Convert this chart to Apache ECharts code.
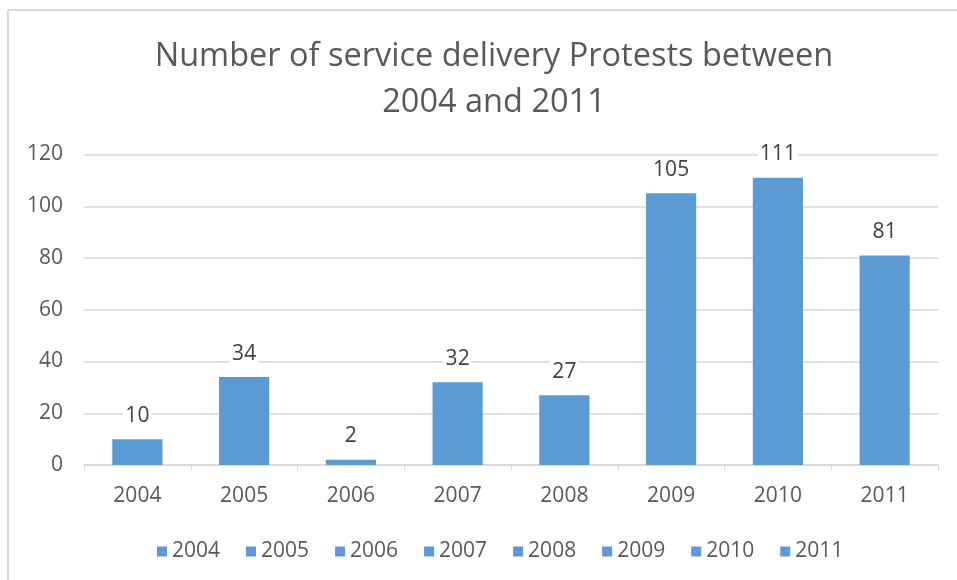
<!DOCTYPE html>
<html>
<head>
<meta charset="utf-8">
<title>Service delivery protests 2004-2011</title>
<script src="https://cdn.jsdelivr.net/npm/echarts@6/dist/echarts.min.js"></script>
<style>
  html, body { margin: 0; padding: 0; background: #ffffff; }
  #chart { width: 957px; height: 580px; }
</style>
</head>
<body>
<div id="chart"></div>
<script>
// Years shown on the category axis and in the legend
const years = ['2004', '2005', '2006', '2007', '2008', '2009', '2010', '2011'];
// Number of service delivery protests recorded per year
const protests = [10, 34, 2, 32, 27, 105, 111, 81];
// Value axis ticks
const yMin = 0;
const yMax = 120;
const yStep = 20;

const barColor = '#5B9BD5';
const font = 'Open Sans, Liberation Sans, sans-serif';

// One series per year so each year gets its own legend entry;
// stacking keeps every bar centred on its category.
const series = years.map((year, i) => ({
  name: year,
  type: 'bar',
  stack: 'years',
  barWidth: '47%',
  itemStyle: { color: barColor },
  label: {
    show: true,
    position: 'top',
    distance: 13,
    color: '#404040',
    fontFamily: font,
    fontSize: 21,
    backgroundColor: '#ffffff',
    padding: [0, 2]
  },
  data: protests.map((v, j) => (j === i ? v : '-'))
}));

const chart = echarts.init(document.getElementById('chart'), null, { renderer: 'canvas' });
chart.setOption({
  animation: false,
  backgroundColor: '#ffffff',
  color: [barColor],
  title: {
    text: 'Number of service delivery Protests between\n2004 and 2011',
    left: 489,
    textAlign: 'center',
    top: 29,
    textStyle: {
      color: '#595959',
      fontFamily: font,
      fontSize: 32.5,
      fontWeight: 'normal',
      lineHeight: 46
    }
  },
  legend: {
    top: 536,
    left: 152,
    icon: 'rect',
    itemWidth: 10,
    itemHeight: 10,
    itemGap: 26,
    textStyle: { color: '#595959', fontFamily: font, fontSize: 21 },
    data: years
  },
  grid: { left: 84, right: 19, top: 154.5, bottom: 115, containLabel: false },
  xAxis: {
    type: 'category',
    data: years,
    axisLine: { lineStyle: { color: '#d9d9d9', width: 1.5 } },
    axisTick: { show: true, length: 6, lineStyle: { color: '#d9d9d9' } },
    axisLabel: { color: '#595959', fontFamily: font, fontSize: 21, margin: 21 }
  },
  yAxis: {
    type: 'value',
    min: yMin,
    max: yMax,
    interval: yStep,
    axisLine: { show: false },
    axisTick: { show: false },
    splitLine: { lineStyle: { color: '#d9d9d9', width: 1.5 } },
    axisLabel: { color: '#595959', fontFamily: font, fontSize: 21, margin: 21 }
  },
  graphic: [
    { type: 'line', shape: { x1: 8, y1: 10, x2: 957, y2: 10 }, style: { stroke: '#d9d9d9', lineWidth: 2 } },
    { type: 'line', shape: { x1: 8, y1: 10, x2: 8, y2: 580 }, style: { stroke: '#d9d9d9', lineWidth: 2 } }
  ],
  series: series
});
</script>
</body>
</html>
